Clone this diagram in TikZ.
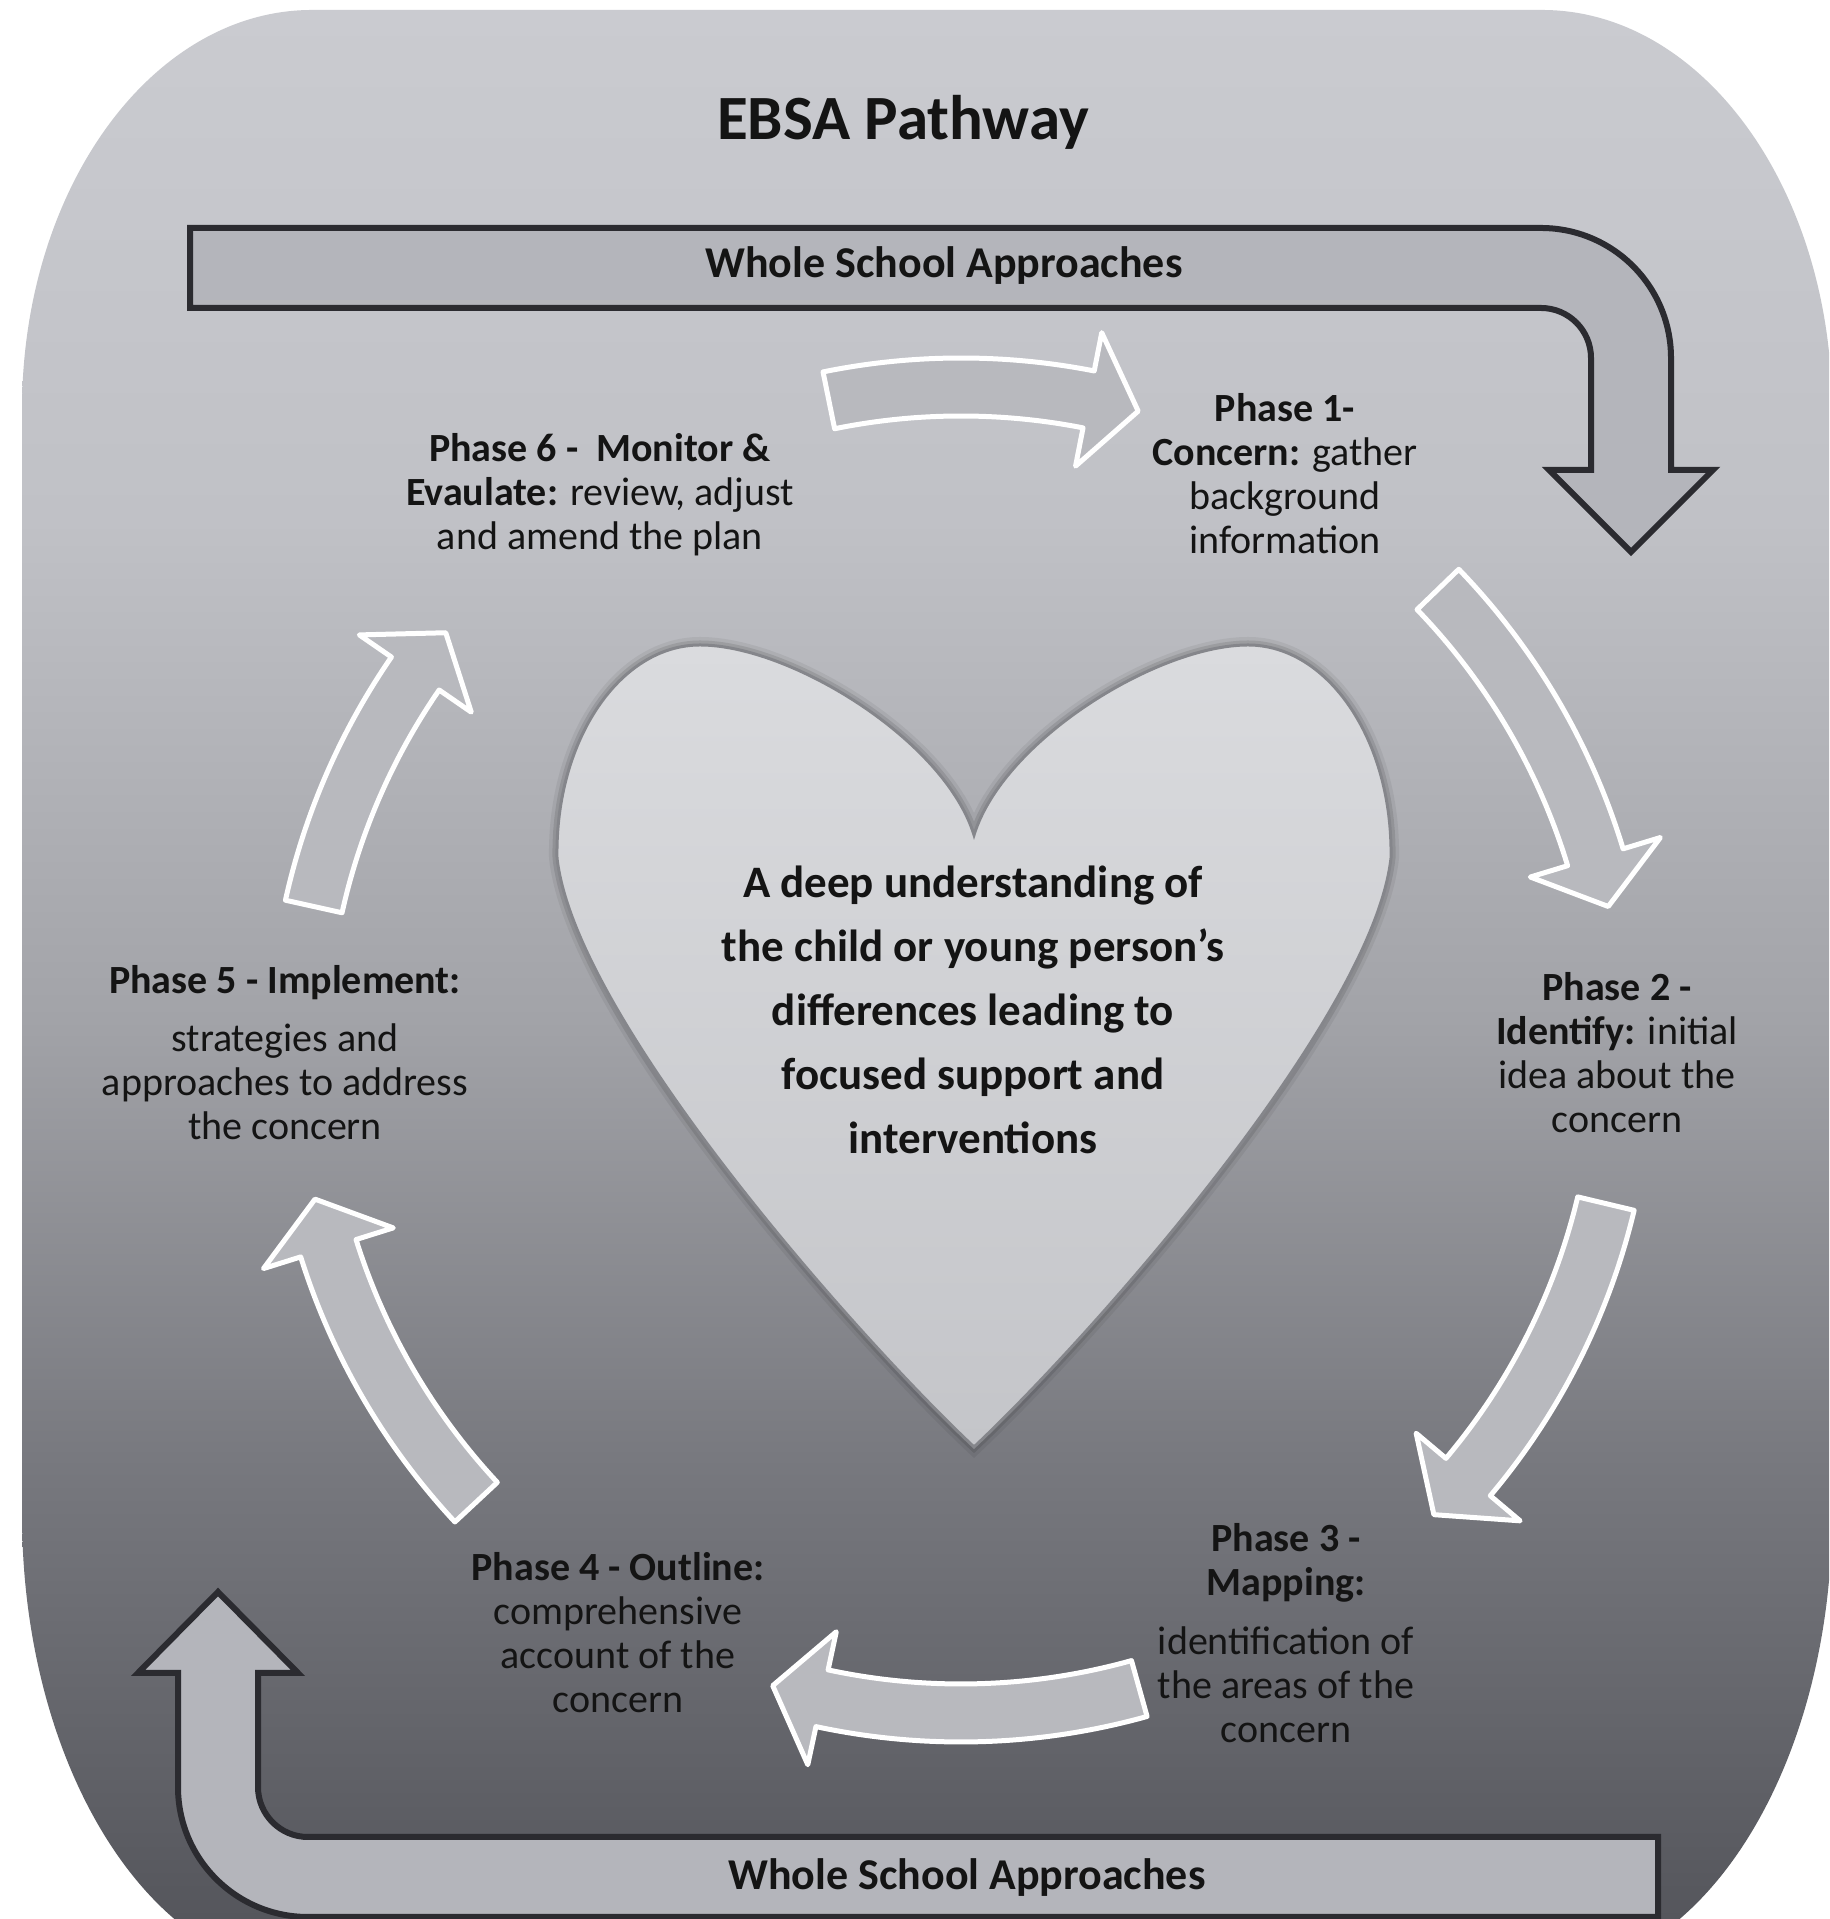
\documentclass[tikz,border=0pt]{standalone}
\usepackage{fontspec}
\setmainfont{Carlito}
\definecolor{bg0}{HTML}{55565C}
\definecolor{bg1}{HTML}{77787E}
\definecolor{bg2}{HTML}{A2A3A8}
\definecolor{bg3}{HTML}{C0C1C6}
\definecolor{bg4}{HTML}{CACBD0}
\definecolor{bandfill}{HTML}{B4B5BB}
\definecolor{bandline}{HTML}{2B2B30}
\definecolor{arrowfill}{HTML}{B8B9BE}
\definecolor{hearttop}{HTML}{DADBDE}
\definecolor{heartbot}{HTML}{C4C5C9}
\definecolor{heartedge}{HTML}{85868B}
\definecolor{ink}{HTML}{141414}
% vertical panel gradient, useful range 25bp..75bp
\pgfdeclareverticalshading{panelshade}{100bp}{color(0bp)=(bg0); color(26.4bp)=(bg0); color(37.9bp)=(bg1); color(49.3bp)=(bg2); color(62bp)=(bg3); color(75bp)=(bg4); color(100bp)=(bg4)}
% curved arrow on the cycle circle: #1 tail angle, #2 tip angle (clockwise)
\newcommand\cyclearrow[2]{%
  \pgfmathsetmacro\hb{#2+4.4}%
  \path[cyc] (#1:692) arc[start angle=#1, end angle=\hb, radius=692pt]
    -- (\hb:731) -- (#2:663) -- (\hb:595) -- (\hb:634)
    arc[start angle=\hb, end angle=#1, radius=634pt] -- cycle;}
\def\heartpath{(974,472) .. controls (860,579) and (575,899) .. (557,1061)
  .. controls (555,1179) and (620,1274) .. (700,1274)
  .. controls (790,1274) and (945,1179) .. (974,1084)
  .. controls (1003,1179) and (1158,1274) .. (1248,1274)
  .. controls (1328,1274) and (1393,1179) .. (1391,1061)
  .. controls (1373,899) and (1088,579) .. (974,472) -- cycle}
\begin{document}
\begin{tikzpicture}[x=1pt, y=1pt,
  band/.style={fill=bandfill, draw=bandline, line width=6pt, line join=miter},
  cyc/.style={fill=arrowfill, draw=white, line width=5pt, line join=round},
  phase/.style={align=center, text=ink, inner sep=0pt, font=\fontsize{40}{44}\selectfont},
  bandtext/.style={text=ink, inner sep=0pt, font=\bfseries\fontsize{44}{50}\selectfont}]
\useasboundingbox (0,0) rectangle (1829,1919);
\clip (0,0) rectangle (1829,1919);
\fill[white] (0,0) rectangle (1829,1919);

% rounded grey panel
\path[shading=panelshade] (312,1909) -- (1542,1909)
  arc[start angle=90, end angle=0, x radius=290pt, y radius=400pt] -- (1832,405)
  arc[start angle=0, end angle=-90, x radius=290pt, y radius=460pt] -- (312,-55)
  arc[start angle=270, end angle=180, x radius=290pt, y radius=460pt] -- (22,1509)
  arc[start angle=180, end angle=90, x radius=290pt, y radius=400pt] -- cycle;

\node[text=ink, inner sep=0pt, font=\bfseries\fontsize{63}{70}\selectfont] (title) at (903,1797) {EBSA Pathway};

% whole school approaches bands
\path[band] (190,1691) -- (1541,1691) arc[start angle=90, end angle=0, radius=130pt]
  -- (1671,1449) -- (1713,1449) -- (1631,1367) -- (1549,1449) -- (1591,1449) -- (1591,1561)
  arc[start angle=0, end angle=90, radius=50pt] -- (190,1611) -- cycle;
\node[bandtext] (wsaTop) at (944,1653) {Whole School Approaches};

\path[band] (218,327) -- (298,246) -- (258,246) -- (258,132)
  arc[start angle=180, end angle=270, radius=50pt] -- (1658,82) -- (1658,2) -- (308,2)
  arc[start angle=270, end angle=180, radius=130pt] -- (178,246) -- (138,246) -- cycle;
\node[bandtext] (wsaBot) at (967,41) {Whole School Approaches};

% central heart
\path[draw=black, opacity=0.06, line width=16pt] \heartpath;
\path[draw=black, opacity=0.10, line width=9pt] \heartpath;
\path[top color=hearttop, bottom color=heartbot, draw=heartedge, line width=3pt] \heartpath;
\node[align=center, text=ink, inner sep=0pt, font=\bfseries\fontsize{45}{64}\selectfont] (core) at (973,909)
  {A deep understanding of\\the child or young person’s\\differences leading to\\focused support and\\interventions};

% cycle arrows
\begin{scope}[shift={(961,869)}]
  \cyclearrow{101.5}{74.5}
  \cyclearrow{44}{12.5}
  \cyclearrow{-13.4}{-44.5}
  \cyclearrow{-74.4}{-106.5}
  \cyclearrow{-137}{-167}
  \cyclearrow{167.5}{141}
\end{scope}

% phase labels
\node[phase] (p1) at (1285,1445) {\textbf{Phase 1-}\\\textbf{Concern:} gather\\background\\information};
\node[phase] (p2) at (1617,866) {\textbf{Phase 2 -}\\\textbf{Identify:} initial\\idea about the\\concern};
\node[phase] (p3) at (1286,286) {\textbf{Phase 3 -}\\\textbf{Mapping:}\\[15pt]identification of\\the areas of the\\concern};
\node[phase] (p4) at (618,286) {\textbf{Phase 4 - Outline:}\\comprehensive\\account of the\\concern};
\node[phase] (p5) at (285,866) {\textbf{Phase 5 - Implement:}\\[14pt]strategies and\\approaches to address\\the concern};
\node[phase] (p6) at (600,1424) {\textbf{Phase 6 -\ \ Monitor \&}\\\textbf{Evaulate:} review, adjust\\and amend the plan};
\end{tikzpicture}
\end{document}
